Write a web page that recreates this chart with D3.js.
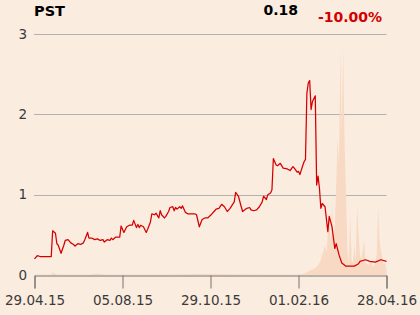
<!DOCTYPE html>
<html>
<head>
<meta charset="utf-8">
<script src="https://cdn.jsdelivr.net/npm/d3@7"></script>
<style>
  html, body { margin: 0; padding: 0; background: #fbece0; }
  svg { display: block; font-family: "DejaVu Sans", sans-serif; }
</style>
</head>
<body>
<svg id="chart" width="420" height="315"></svg>
<script>
/* PST share price, one year (trading-day index) */

var ticker = 'PST',
    lastPrice = '0.18',
    change = '-10.00%';

var tickLabels = ['29.04.15', '05.08.15', '29.10.15', '01.02.16', '28.04.16'];
var tickDays = [0, 63, 126, 189, 252];
var yTicks = [0, 1, 2, 3];

// price
var priceDays = [0, 2, 4, 8, 12, 13, 15, 16, 17, 19, 21, 22, 24, 26, 28, 29, 31, 33, 35, 36,
    38, 39, 41, 43, 45, 47, 49, 50, 52, 54, 55, 56, 58, 61, 62, 64, 66, 68, 70, 71,
    73, 74, 75, 76, 78, 80, 81, 83, 84, 86, 87, 89, 90, 91, 93, 94, 96, 97, 99, 100,
    101, 102, 104, 105, 106, 108, 110, 113, 115, 116, 118, 120, 122, 124, 127, 129, 130, 132, 134, 136,
    138, 140, 143, 144, 146, 148, 149, 152, 154, 155, 157, 159, 161, 163, 164, 166, 167, 169, 170, 171,
    173, 174, 176, 178, 181, 182, 183, 185, 186, 188, 189, 190, 192, 193, 194, 195, 196, 197, 198, 199,
    201, 202, 203, 204, 205, 206, 208, 210, 211, 213, 215, 216, 218, 220, 223, 226, 229, 232, 233, 237,
    240, 244, 248, 252];
var price = [0.20, 0.24, 0.23, 0.23, 0.23, 0.55, 0.52, 0.39, 0.37, 0.27, 0.37, 0.43, 0.44, 0.40, 0.38, 0.36, 0.39, 0.38, 0.40, 0.44,
    0.53, 0.46, 0.46, 0.44, 0.45, 0.43, 0.44, 0.41, 0.44, 0.43, 0.46, 0.44, 0.47, 0.47, 0.61, 0.53, 0.60, 0.62, 0.62, 0.68,
    0.59, 0.63, 0.59, 0.62, 0.60, 0.53, 0.57, 0.66, 0.76, 0.75, 0.77, 0.71, 0.80, 0.75, 0.71, 0.73, 0.79, 0.84, 0.85, 0.80,
    0.84, 0.82, 0.85, 0.83, 0.86, 0.78, 0.76, 0.76, 0.76, 0.75, 0.60, 0.69, 0.71, 0.71, 0.76, 0.80, 0.82, 0.83, 0.88, 0.85,
    0.79, 0.83, 0.91, 1.03, 0.98, 0.85, 0.79, 0.83, 0.84, 0.81, 0.80, 0.81, 0.85, 0.91, 0.98, 0.94, 1.00, 1.02, 1.06, 1.45,
    1.37, 1.36, 1.39, 1.33, 1.32, 1.31, 1.30, 1.35, 1.33, 1.28, 1.29, 1.25, 1.36, 1.41, 1.44, 2.26, 2.39, 2.42, 2.06, 2.16,
    2.23, 1.12, 1.23, 1.08, 0.83, 0.89, 0.85, 0.54, 0.73, 0.60, 0.33, 0.39, 0.25, 0.15, 0.11, 0.11, 0.11, 0.14, 0.17, 0.19,
    0.17, 0.16, 0.19, 0.17, 0.18];

// volume (thousands)
var volumeDays = [0, 12, 13, 14, 16, 40, 45, 50, 100, 120, 160, 190, 192, 194, 196, 198, 200, 202, 204, 205,
    206, 208, 209, 211, 212, 213, 214, 215, 216, 217, 218, 219, 220, 221, 222, 223, 224, 225, 226, 227,
    228, 229, 230, 231, 232, 233, 234, 236, 237, 239, 241, 242, 244, 245, 246, 247, 248, 250, 251, 252];
var volume = [5, 5, 30, 15, 5, 5, 15, 5, 5, 10, 5, 5, 10, 20, 35, 50, 60, 80, 120, 150,
    200, 300, 220, 600, 300, 730, 350, 500, 900, 1370, 1100, 2250, 1400, 2280, 1300, 820, 250, 120, 600, 150,
    120, 300, 150, 700, 400, 200, 150, 350, 120, 100, 150, 80, 120, 200, 680, 350, 250, 100, 120, 60];

var margin = {left: 34.5, right: 33.5, top: 34, bottom: 40},
    width = 420, height = 315;

var svg = d3.select('#chart');

var x = d3.scaleLinear().domain([0, 252]).range([margin.left, width - margin.right]);
var y = d3.scaleLinear().domain([0, 3]).range([height - margin.bottom, margin.top]);
var yVol = d3.scaleLinear().domain([0, 2410]).range([height - margin.bottom, margin.top]);

/* Grid */

svg.append('g')
    .selectAll('line')
    .data(yTicks.filter(function (d) { return d > 0; }))
    .join('line')
    .attr('x1', margin.left - 0.5)
    .attr('x2', width - margin.right)
    .attr('y1', function (d) { return Math.round(y(d)) + 0.5; })
    .attr('y2', function (d) { return Math.round(y(d)) + 0.5; })
    .style('stroke', '#b5b0ab')
    .style('stroke-width', 1);

/* Volume */

var volData = volumeDays.map(function (d, i) { return [d, volume[i]]; });
var area = d3.area()
    .x(function (d) { return x(d[0]); })
    .y0(yVol(0))
    .y1(function (d) { return yVol(d[1]); });

svg.append('path')
    .datum(volData)
    .attr('d', area)
    .style('fill', '#f8d9c3');

/* Price line */

var priceData = priceDays.map(function (d, i) { return [d, price[i]]; });
var line = d3.line()
    .x(function (d) { return x(d[0]); })
    .y(function (d) { return y(d[1]); });

svg.append('path')
    .datum(priceData)
    .attr('d', line)
    .style('fill', 'none')
    .style('stroke', '#d40000')
    .style('stroke-width', 1.25)
    .style('stroke-linejoin', 'round');

/* Axes */

var xAxis = d3.axisBottom(x)
    .tickValues(tickDays)
    .tickFormat(function (d, i) { return tickLabels[i]; })
    .tickSize(13)
    .tickPadding(7);

var gx = svg.append('g')
    .attr('transform', 'translate(0,' + (Math.round(y(0)) + 0.5) + ')')
    .call(xAxis);
gx.select('.domain').style('stroke', '#77726e');
gx.selectAll('.tick line').style('stroke', '#77726e');
gx.selectAll('text')
    .style('font-size', '13.5px')
    .style('fill', '#3a3a3a')
    .style('font-family', '"DejaVu Sans", sans-serif');

var yLabels = svg.append('g')
    .selectAll('text')
    .data(yTicks)
    .join('text')
    .attr('x', 27)
    .attr('y', function (d) { return y(d); })
    .attr('dy', '0.35em')
    .attr('text-anchor', 'end')
    .style('font-size', '13.5px')
    .style('fill', '#3a3a3a')
    .text(function (d) { return d; });

/* Header */

svg.append('text')
    .attr('x', 34).attr('y', 15.5)
    .style('font-size', '14.5px').style('font-weight', 'bold').style('fill', '#000')
    .text(ticker);

svg.append('text')
    .attr('x', 298).attr('y', 15)
    .attr('text-anchor', 'end')
    .style('font-size', '14px').style('font-weight', 'bold').style('fill', '#000')
    .text(lastPrice);

svg.append('text')
    .attr('x', 382).attr('y', 22)
    .attr('text-anchor', 'end')
    .style('font-size', '14px').style('font-weight', 'bold').style('fill', '#d40000')
    .text(change);
</script>
</body>
</html>
